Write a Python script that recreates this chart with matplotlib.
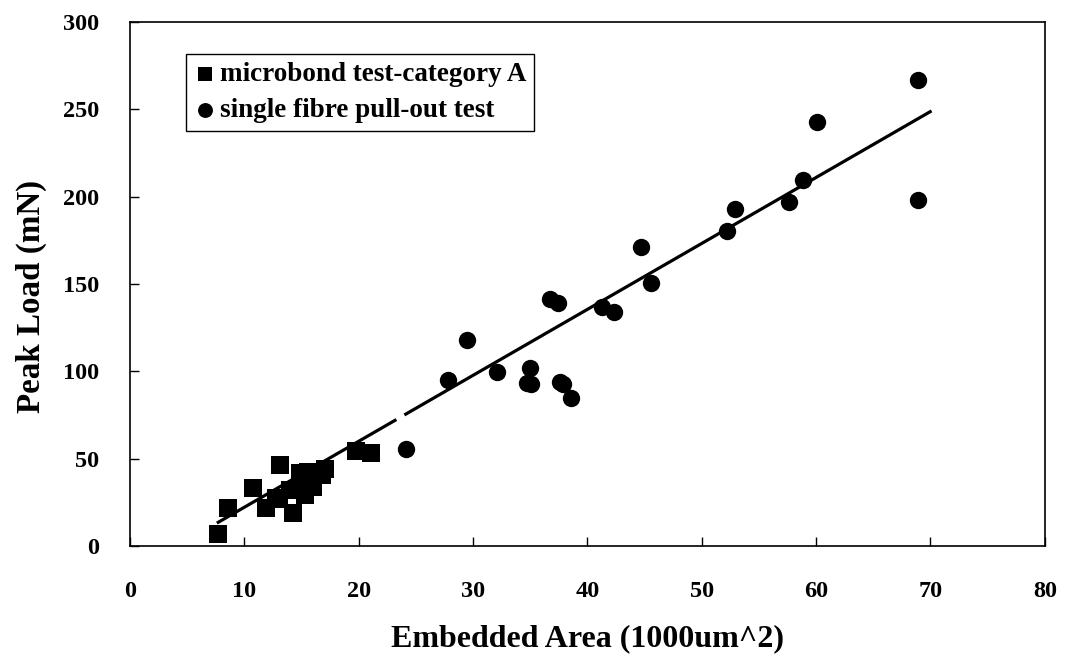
import matplotlib.pyplot as plt

# microbond test, category A
micro_x = [7.7, 8.6, 10.8, 11.9, 12.8, 13.0, 13.1, 14.0, 14.3, 14.9, 14.9, 15.2,
           15.3, 15.6, 16.0, 16.8, 17.1, 19.8, 21.1]
micro_y = [6.7, 22.0, 33.0, 21.6, 27.3, 26.7, 46.4, 32.0, 19.0, 42.0, 36.8, 34.0,
           29.0, 42.6, 34.0, 40.6, 44.0, 54.6, 53.0]

# single fibre pull-out test
pull_x = [24.1, 27.8, 29.5, 32.1, 34.7, 35.0, 35.1, 36.7, 37.4, 37.6, 37.9, 38.6,
          41.3, 42.3, 44.7, 45.6, 52.2, 52.9, 57.6, 58.9, 60.1, 68.9, 68.9]
pull_y = [55.5, 95.0, 118.0, 99.8, 93.3, 102.0, 92.7, 141.4, 139.0, 94.0, 93.0, 84.7,
          136.8, 134.0, 171.0, 150.5, 180.0, 193.0, 197.0, 209.5, 242.5, 266.5, 198.0]

# linear trend line, drawn in two pieces
slope, intercept = 3.773, -15.5
fit_pieces = [(7.6, 23.3), (24.0, 70.1)]

plt.rcParams['font.family'] = 'Liberation Serif'
plt.rcParams['font.weight'] = 'bold'

fig = plt.figure(figsize=(10.65, 6.58), dpi=100)
ax = fig.add_axes([0.122, 0.170, 0.859, 0.797])

for x0, x1 in fit_pieces:
    ax.plot([x0, x1], [slope * x0 + intercept, slope * x1 + intercept],
            color='black', lw=2.3, solid_capstyle='butt', zorder=2)

ax.scatter(micro_x, micro_y, marker='s', s=13 ** 2, color='black', linewidths=0,
           label='microbond test-category A', zorder=3)
ax.scatter(pull_x, pull_y, marker='o', s=12.5 ** 2, color='black', linewidths=0,
           label='single fibre pull-out test', zorder=3)

ax.set_xlim(0, 80)
ax.set_ylim(0, 300)
ax.set_xticks(range(0, 81, 10))
ax.set_yticks(range(0, 301, 50))
ax.tick_params(direction='in', length=6.5, width=1, labelsize=17.5,
               top=False, right=False)
ax.tick_params(axis='x', pad=25)
ax.tick_params(axis='y', pad=22)
for lab in ax.get_xticklabels() + ax.get_yticklabels():
    lab.set_fontweight('bold')
for sp in ax.spines.values():
    sp.set_linewidth(1.2)

ax.set_xlabel('Embedded Area (1000um^2)', fontsize=23, fontweight='bold', labelpad=16)
ax.set_ylabel('Peak Load (mN)', fontsize=23.8, fontweight='bold')
ax.yaxis.set_label_coords(-0.091, 0.476)

leg = ax.legend(loc='upper left', bbox_to_anchor=(0.061, 0.939), fancybox=False,
                frameon=True, edgecolor='black', framealpha=1, borderpad=0.3,
                handletextpad=0.15, handlelength=0.8, labelspacing=0.42,
                borderaxespad=0, prop={'size': 19.5, 'weight': 'bold'})
leg.get_frame().set_linewidth(1.0)
for h in leg.legend_handles:
    h.set_sizes([115])

fig.savefig('out.png', dpi=100)
